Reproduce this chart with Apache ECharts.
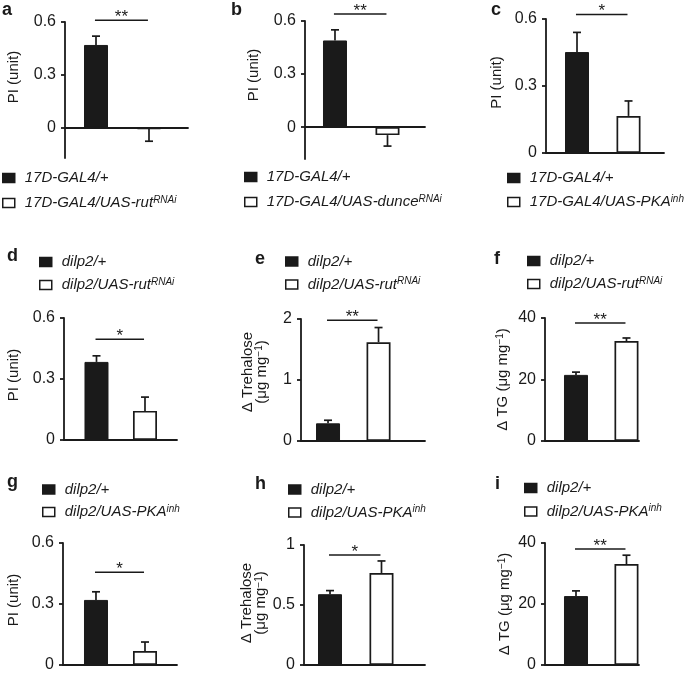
<!DOCTYPE html>
<html><head><meta charset="utf-8">
<script src="https://cdn.jsdelivr.net/npm/echarts@6/dist/echarts.min.js"></script>
<style>html,body{margin:0;padding:0;background:#fff}#c{width:685px;height:675px}</style>
</head><body><div id="c"></div>
<script>
// ---------- data ----------
const panelLetters = ['a','b','c','d','e','f','g','h','i'];
const controlNames = ['17D-GAL4/+','17D-GAL4/+','17D-GAL4/+','dilp2/+','dilp2/+','dilp2/+','dilp2/+','dilp2/+','dilp2/+'];
const testNames = ['17D-GAL4/UAS-rut[RNAi]','17D-GAL4/UAS-dunce[RNAi]','17D-GAL4/UAS-PKA[inh]','dilp2/UAS-rut[RNAi]','dilp2/UAS-rut[RNAi]','dilp2/UAS-rut[RNAi]','dilp2/UAS-PKA[inh]','dilp2/UAS-PKA[inh]','dilp2/UAS-PKA[inh]'];
const controlValues = [0.47, 0.49, 0.452, 0.384, 0.29, 21.5, 0.32, 0.59, 22.6];
const controlErrors = [0.05, 0.06, 0.088, 0.03, 0.05, 0.9, 0.04, 0.03, 1.7];
const testValues = [-0.005, -0.045, 0.166, 0.143, 1.62, 32.5, 0.069, 0.767, 33.1];
const testErrors = [0.07, 0.062, 0.067, 0.068, 0.24, 1.0, 0.044, 0.1, 2.9];
const significance = ['**','**','*','*','**','**','*','*','**'];
const sigLevels = [0.61, 0.64, 0.62, 0.496, 1.98, 38.4, 0.456, 0.917, 38];
const yAxisTitles = ['PI (unit)','PI (unit)','PI (unit)','PI (unit)','Δ Trehalose\n(μg mg[−1])','Δ TG (μg mg[−1])','PI (unit)','Δ Trehalose\n(μg mg[−1])','Δ TG (μg mg[−1])'];
const yMins = [-0.17, -0.18, 0, 0, 0, 0, 0, 0, 0];
const yMaxes = [0.6, 0.6, 0.6, 0.6, 2, 40, 0.6, 1, 40];
const yTickValues = [[0,0.3,0.6],[0,0.3,0.6],[0,0.3,0.6],[0,0.3,0.6],[0,1,2],[0,20,40],[0,0.3,0.6],[0,0.5,1],[0,20,40]];
const yTickLabels = [['0','0.3','0.6'],['0','0.3','0.6'],['0','0.3','0.6'],['0','0.3','0.6'],['0','1','2'],['0','20','40'],['0','0.3','0.6'],['0','0.5','1'],['0','20','40']];

// ---------- layout (pixels) ----------
const gridBoxes = [[65,22,188,158],[305,21,425,159],[546,19,664,153],[64,318,177,440],[301,319,425,441],[545,318,639,441],[63,543,177,665],[304,545,425,665],[545,543,639,665]];
const xDomains = [[-0.585,1.736],[-0.571,1.714],[-0.602,1.689],[-0.67,1.66],[-0.535,1.92],[-0.614,1.248],[-0.673,1.653],[-0.505,1.845],[-0.614,1.248]];
const legendBoxes = [[2,178,25],[244,177,25],[507,178,24],[39,262,23],[285,261.5,23],[527,261,23],[42,489.5,22.5],[288,489.5,23],[524,488,23.5]];
const nameGaps = [44.5,44.5,42.5,43.5,32.5,35.5,42.5,35.5,33.5];
const nameShifts = [13,15,3.5,4,8,0,4,2,0];
const letterPos = [[2,10],[231,10.5],[491,10],[7,256.5],[255,259.5],[494,259],[7,482.5],[255,484],[495,484]];

const INK = '#1a1a1a';
const FONT = '"Liberation Sans", Arial, Helvetica, sans-serif';
const sup = s => s.replace(/\[([^\]]*)\]/g, '{s|$1}');

const grids = [], xAxes = [], yAxes = [], series = [], legends = [], graphics = [];

function errorBarItem(params, api) {
  const x = api.value(0), v = api.value(1), e = api.value(2);
  const dir = v < 0 ? -1 : 1;
  const p0 = api.coord([x, v]);
  const p1 = api.coord([x, v + dir * e]);
  return {type: 'group', children: [
    {type: 'line', shape: {x1: p0[0], y1: p0[1], x2: p1[0], y2: p1[1]}, style: {stroke: INK, lineWidth: 1.7}},
    {type: 'line', shape: {x1: p1[0] - 4, y1: p1[1], x2: p1[0] + 4, y2: p1[1]}, style: {stroke: INK, lineWidth: 1.7}}
  ]};
}

function sigItem(params, api) {
  const lvl = api.value(1);
  const a = api.coord([api.value(0), lvl]);
  const b = api.coord([api.value(2), lvl]);
  return {type: 'group', children: [
    {type: 'line', shape: {x1: a[0], y1: a[1], x2: b[0], y2: b[1]}, style: {stroke: INK, lineWidth: 1.5}},
    {type: 'text', x: (a[0] + b[0]) / 2, y: a[1] - 3, style: {text: api.value(3) ? '**' : '*', fill: INK, font: '17px ' + FONT, align: 'center', verticalAlign: 'middle'}}
  ]};
}

for (let i = 0; i < 9; i++) {
  const [gl, gt, gr, gb] = gridBoxes[i];
  grids.push({left: gl, top: gt, width: gr - gl, height: gb - gt, containLabel: false, outerBoundsMode: 'none'});
  xAxes.push({
    type: 'value', gridIndex: i, min: xDomains[i][0], max: xDomains[i][1],
    axisLine: {show: true, onZero: true, lineStyle: {color: INK, width: 1.8}},
    axisTick: {show: false}, axisLabel: {show: false}, splitLine: {show: false}
  });
  const ticks = yTickValues[i], labs = yTickLabels[i];
  yAxes.push({
    type: 'value', gridIndex: i, min: yMins[i], max: yMaxes[i],
    axisLine: {show: true, onZero: false, lineStyle: {color: INK, width: 1.8}},
    axisTick: {show: true, length: 4, customValues: ticks, lineStyle: {color: INK, width: 1.8}},
    axisLabel: {show: true, customValues: ticks, margin: 9, color: INK, fontFamily: FONT, fontSize: 16,
      formatter: v => { const k = ticks.findIndex(t => Math.abs(t - v) < 1e-9); return k >= 0 ? labs[k] : ''; }},
    splitLine: {show: false},
    name: sup(yAxisTitles[i]), nameLocation: 'middle', nameGap: nameGaps[i], nameRotate: 90,
    nameTextStyle: {color: INK, fontFamily: FONT, fontSize: 15, lineHeight: 14, padding: [0, 0, 0, nameShifts[i] * 2],
      rich: {s: {fontSize: 10, lineHeight: 10, verticalAlign: 'top', fontFamily: FONT, color: INK}}}
  });
  series.push({
    type: 'bar', name: controlNames[i], xAxisIndex: i, yAxisIndex: i, barWidth: 24, barGap: '-100%',
    data: [[0, controlValues[i]]], itemStyle: {color: INK, borderColor: INK, borderWidth: 1}
  });
  series.push({
    type: 'bar', name: testNames[i], xAxisIndex: i, yAxisIndex: i, barWidth: 24, barGap: '-100%',
    data: [[1, testValues[i]]], itemStyle: {color: '#ffffff', borderColor: INK, borderWidth: 1.7}
  });
  series.push({
    type: 'custom', name: 'err' + i, xAxisIndex: i, yAxisIndex: i, renderItem: errorBarItem, clip: false, z: 3,
    encode: {x: 0, y: 1},
    data: [[0, controlValues[i], controlErrors[i]], [1, testValues[i], testErrors[i]]]
  });
  series.push({
    type: 'custom', name: 'sig' + i, xAxisIndex: i, yAxisIndex: i, renderItem: sigItem, clip: false, z: 3,
    encode: {x: 0, y: 1},
    data: [[-0.02, sigLevels[i], 0.98, significance[i] === '**' ? 1 : 0]]
  });
  const [ll, lc, lg] = legendBoxes[i];
  legends.push({
    data: [controlNames[i], testNames[i]], orient: 'vertical', left: ll, top: lc - 8, padding: 0,
    itemWidth: 12, itemHeight: 9, itemGap: lg - 16, icon: 'rect', selectedMode: false,
    itemStyle: {borderColor: INK, borderWidth: 1.5},
    formatter: n => '{g|}' + sup(n),
    textStyle: {color: INK, fontFamily: FONT, fontSize: 15, fontStyle: 'italic', lineHeight: 16,
      rich: {g: {width: 5, lineHeight: 16}, s: {fontSize: 10, lineHeight: 10, verticalAlign: 'top', fontStyle: 'italic', fontFamily: FONT, color: INK}}}
  });
  graphics.push({
    type: 'text', left: letterPos[i][0], top: letterPos[i][1] - 9,
    style: {text: panelLetters[i], font: 'bold 18px ' + FONT, fill: INK}
  });
}

const chart = echarts.init(document.getElementById('c'), null, {renderer: 'canvas'});
chart.setOption({
  animation: false, backgroundColor: '#ffffff',
  grid: grids, xAxis: xAxes, yAxis: yAxes, series: series, legend: legends, graphic: graphics
});
</script></body></html>
